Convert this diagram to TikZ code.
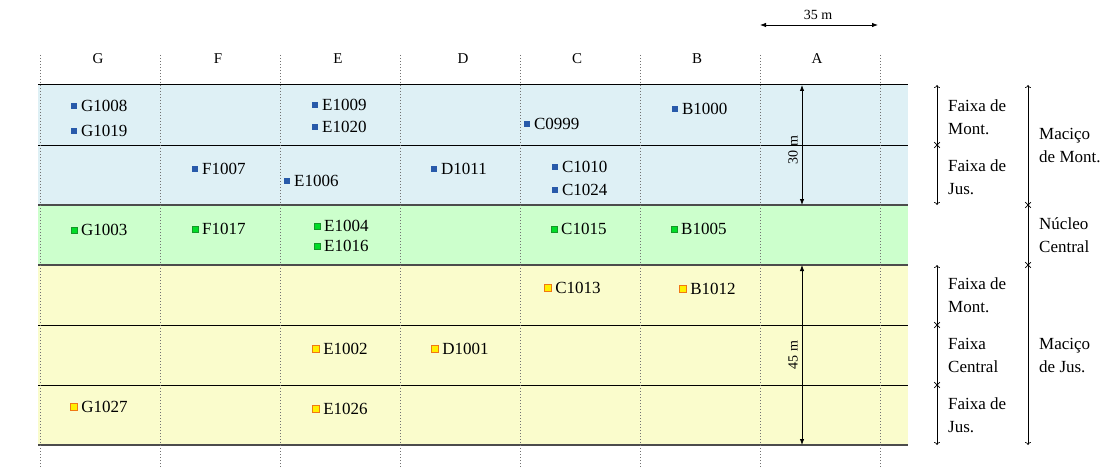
\documentclass[tikz,border=0pt]{standalone}
\usepackage{fontspec}
\setmainfont{Liberation Serif}
\usetikzlibrary{arrows.meta,shapes.misc,positioning}
\definecolor{bandblue}{RGB}{222,240,245}
\definecolor{bandgreen}{RGB}{204,255,204}
\definecolor{bandyellow}{RGB}{250,252,204}
\definecolor{mblue}{RGB}{40,90,170}
\definecolor{mgreen}{RGB}{0,220,40}
\definecolor{mgreenb}{RGB}{20,150,40}
\definecolor{myellow}{RGB}{255,240,0}
\definecolor{morange}{RGB}{240,120,20}
\tikzset{
  bmark/.style={fill=mblue,inner sep=0pt,minimum size=6.5pt},
  gmark/.style={fill=mgreen,draw=mgreenb,line width=0.5pt,inner sep=0pt,minimum size=6.5pt},
  ymark/.style={fill=myellow,draw=morange,line width=0.8pt,inner sep=0pt,minimum size=6.5pt},
  lbl/.style={font=\fontsize{17}{20}\selectfont,inner sep=0pt,anchor=west},
  hdr/.style={font=\fontsize{15}{16}\selectfont,inner sep=0pt},
  side/.style={font=\fontsize{17}{23}\selectfont,align=left,anchor=west,inner sep=0pt},
  dim/.style={font=\fontsize{14}{16}\selectfont,inner sep=0pt},
  dimarrow/.style={line width=0.8pt,{Latex[length=6pt,width=4.5pt]}-{Latex[length=6pt,width=4.5pt]}},
  brk/.style={line width=0.7pt,{To[length=3pt,width=6pt]}-{To[length=3pt,width=6pt]}},
  xmark/.style={cross out,draw,line width=0.7pt,inner sep=0pt,minimum size=5pt},
  grid/.style={dash pattern=on 0.8pt off 2.2pt,line width=0.8pt,black!55},
  hline/.style={line width=1pt,black},
  hgline/.style={line width=1.5pt,black!70}
}
\begin{document}
\begin{tikzpicture}[x=1pt,y=-1pt]
\useasboundingbox (0,0) rectangle (1110,468);
% bands
\fill[bandblue] (38,85) rectangle (908,205);
\fill[bandgreen] (38,205) rectangle (908,265);
\fill[bandyellow] (38,265) rectangle (908,445);
% horizontal lines
\draw[hline] (38,85) -- (908,85);
\draw[hline] (38,145) -- (908,145);
\draw[hgline] (38,205) -- (908,205);
\draw[hgline] (38,265) -- (908,265);
\draw[hline] (38,325) -- (908,325);
\draw[hline] (38,385) -- (908,385);
\draw[hgline] (38,445) -- (908,445);
% vertical dotted lines
\foreach \x in {40,160,280,400,520,640,760,880}
  \draw[grid] (\x,55) -- (\x,468);
% column headers
\node[hdr] (hG) at (98,59) {G};
\node[hdr] (hF) at (218,59) {F};
\node[hdr] (hE) at (338,59) {E};
\node[hdr] (hD) at (463,59) {D};
\node[hdr] (hC) at (577,59) {C};
\node[hdr] (hB) at (697,59) {B};
\node[hdr] (hA) at (817,59) {A};
% dimension 35 m
\coordinate (d35a) at (760,25);
\coordinate (d35b) at (878,25);
\draw[dimarrow] (d35a) -- (d35b);
\node[dim] (t35) at (818,15) {35 m};
% dimension 30 m
\coordinate (d30a) at (802,85);
\coordinate (d30b) at (802,205);
\draw[dimarrow] (d30a) -- (d30b);
\node[dim,rotate=90] (t30) at (793,150) {30 m};
% dimension 45 m
\coordinate (d45a) at (802,265);
\coordinate (d45b) at (802,445);
\draw[dimarrow] (d45a) -- (d45b);
\node[dim,rotate=90] (t45) at (793,355) {45 m};
% markers
\newcommand{\mk}[5]{\node[#1] (#2) at (#3,#4) {}; \node[lbl,right=3.5pt of #2] (#2t) {#5};}
\mk{bmark}{g1008}{74}{106}{G1008}
\mk{bmark}{g1019}{74}{131}{G1019}
\mk{bmark}{e1009}{315}{105}{E1009}
\mk{bmark}{e1020}{315}{127}{E1020}
\mk{bmark}{c0999}{527}{124}{C0999}
\mk{bmark}{b1000}{675}{109}{B1000}
\mk{bmark}{f1007}{195}{169}{F1007}
\mk{bmark}{e1006}{287}{181}{E1006}
\mk{bmark}{d1011}{434}{169}{D1011}
\mk{bmark}{c1010}{555}{167}{C1010}
\mk{bmark}{c1024}{555}{190}{C1024}
\mk{gmark}{g1003}{74}{230}{G1003}
\mk{gmark}{f1017}{195}{229}{F1017}
\mk{gmark}{e1004}{317}{226}{E1004}
\mk{gmark}{e1016}{317}{246}{E1016}
\mk{gmark}{c1015}{554}{229}{C1015}
\mk{gmark}{b1005}{674}{229}{B1005}
\mk{ymark}{c1013}{548}{288}{C1013}
\mk{ymark}{b1012}{683}{289}{B1012}
\mk{ymark}{e1002}{316}{349}{E1002}
\mk{ymark}{d1001}{435}{349}{D1001}
\mk{ymark}{g1027}{74}{407}{G1027}
\mk{ymark}{e1026}{316}{409}{E1026}
% right brackets
\coordinate (b1a) at (937,85);
\coordinate (b1b) at (937,205);
\draw[brk] (b1a) -- (b1b);
\node[xmark] (x1) at (937,145) {};
\coordinate (b2a) at (937,265);
\coordinate (b2b) at (937,445);
\draw[brk] (b2a) -- (b2b);
\node[xmark] (x2) at (937,325) {};
\node[xmark] (x3) at (937,385) {};
\coordinate (b3a) at (1028,85);
\coordinate (b3b) at (1028,445);
\draw[brk] (b3a) -- (b3b);
\node[xmark] (x4) at (1028,205) {};
\node[xmark] (x5) at (1028,265) {};
% side labels
\node[side] (s1) at (948,117) {Faixa de\\Mont.};
\node[side] (s2) at (948,177) {Faixa de\\Jus.};
\node[side] (s3) at (948,295) {Faixa de\\Mont.};
\node[side] (s4) at (948,355) {Faixa\\Central};
\node[side] (s5) at (948,415) {Faixa de\\Jus.};
\node[side] (s6) at (1039,145) {Maciço\\de Mont.};
\node[side] (s7) at (1039,235) {Núcleo\\Central};
\node[side] (s8) at (1039,355) {Maciço\\de Jus.};
\end{tikzpicture}
\end{document}
